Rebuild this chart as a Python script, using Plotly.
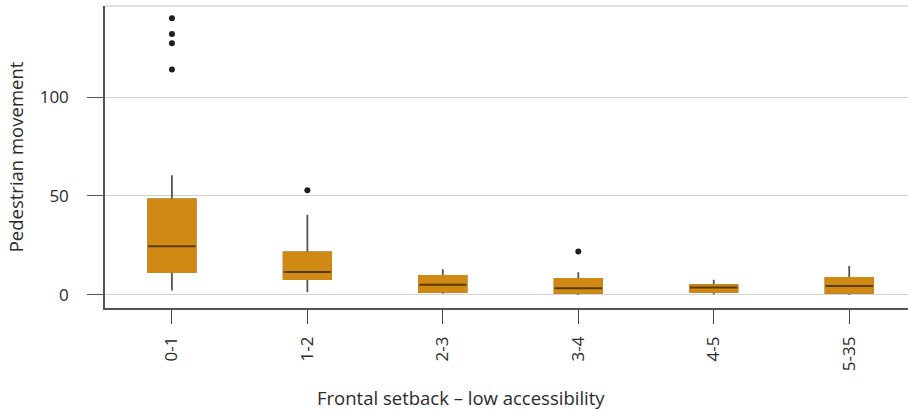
import plotly.graph_objects as go

categories = ["0-1", "1-2", "2-3", "3-4", "4-5", "5-35"]
q1 = [11.5, 7.9, 1.5, 1.0, 1.5, 1.0]
median = [24.5, 11.5, 5.1, 3.3, 3.7, 4.4]
q3 = [48.3, 21.4, 9.5, 8.0, 4.9, 8.5]
lower_whisker = [2.2, 1.3, 0.5, 0.0, 0.3, 0.0]
upper_whisker = [60.5, 40.5, 12.9, 11.4, 7.6, 14.6]
outliers = {
    "0-1": [114.0, 127.2, 131.9, 139.9],
    "1-2": [52.9],
    "3-4": [21.9],
}
y_ticks = [0, 50, 100]

FILL = "#D08912"
WHISKER = "#555555"
MEDIAN = "#5a3b0c"
TEXT = "#2b2b2b"
FONT = "Open Sans"

pos = list(range(len(categories)))
half = 0.175

fig = go.Figure()

# boxes with whiskers
fig.add_trace(go.Box(
    x=pos, q1=q1, median=median, q3=q3,
    lowerfence=lower_whisker, upperfence=upper_whisker,
    fillcolor=FILL, line=dict(color=WHISKER, width=1.8),
    width=0.35, whiskerwidth=0, boxpoints=False, showlegend=False,
    hoverinfo="skip",
))
# cover outline with fill colour
fig.add_trace(go.Box(
    x=pos, q1=q1, median=median, q3=q3,
    lowerfence=q1, upperfence=q3,
    fillcolor=FILL, line=dict(color=FILL, width=1.8),
    width=0.35, whiskerwidth=0, boxpoints=False, showlegend=False,
    hoverinfo="skip",
))
# medians
mx, my = [], []
for p, m in zip(pos, median):
    mx += [p - half, p + half, None]
    my += [m, m, None]
fig.add_trace(go.Scatter(x=mx, y=my, mode="lines",
                         line=dict(color=MEDIAN, width=2), showlegend=False,
                         hoverinfo="skip"))
# outliers
ox, oy = [], []
for c, vals in outliers.items():
    i = categories.index(c)
    ox += [i] * len(vals)
    oy += vals
fig.add_trace(go.Scatter(x=ox, y=oy, mode="markers",
                         marker=dict(color="#1e1e1e", size=6),
                         showlegend=False))

fig.update_layout(
    width=908, height=410,
    margin=dict(l=105, r=0, t=6, b=102),
    paper_bgcolor="white", plot_bgcolor="white",
    boxmode="overlay",
    font=dict(family=FONT, size=17, color=TEXT),
    xaxis=dict(
        range=[-0.494, 5.434], tickmode="array", tickvals=pos,
        ticktext=categories, tickangle=-90,
        showgrid=False, zeroline=False,
        showline=True, linecolor="#555555", linewidth=1.5,
        ticks="outside", ticklen=14, tickcolor="#444444", tickwidth=1.3,
        ticklabelstandoff=6,
        tickfont=dict(family=FONT, size=17, color=TEXT),
    ),
    yaxis=dict(
        range=[-6.7, 146.1], tickmode="array", tickvals=y_ticks,
        showgrid=True, gridcolor="#d2d2d2", gridwidth=1,
        zeroline=False,
        showline=True, linecolor="#555555", linewidth=1.5,
        ticks="outside", ticklen=16, tickcolor="#555555", tickwidth=1.3,
        ticklabelstandoff=15,
        tickfont=dict(family=FONT, size=17, color=TEXT),
    ),
    shapes=[dict(type="line", xref="paper", yref="paper",
                 x0=0, x1=1, y0=1, y1=1,
                 line=dict(color="#e0e0e0", width=2), layer="below")],
    annotations=[
        dict(text="Pedestrian movement", xref="paper", yref="paper",
             x=-0.1117, y=0.5, xanchor="center", yanchor="middle",
             textangle=-90, showarrow=False,
             font=dict(family=FONT, size=18.5, color=TEXT)),
        dict(text="Frontal setback \u2013 low accessibility", xref="paper", yref="paper",
             x=0.443, y=-0.297, xanchor="center", yanchor="middle",
             showarrow=False,
             font=dict(family=FONT, size=18.5, color=TEXT)),
    ],
)

fig.write_html("out.html",
               config={"displayModeBar": False},
               post_script="document.body.style.margin='0';document.body.style.overflow='hidden';")
